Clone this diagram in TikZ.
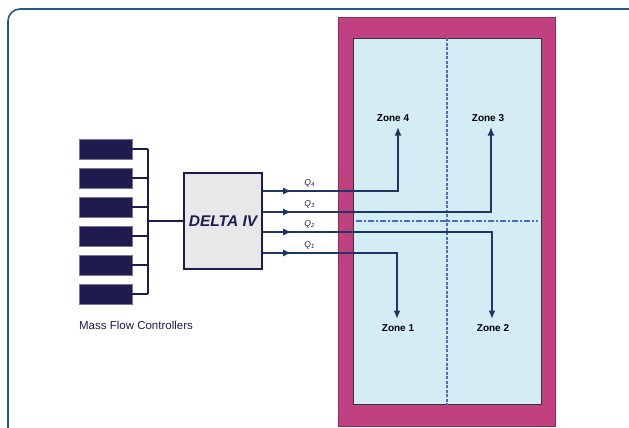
\documentclass[tikz,border=0pt]{standalone}
\usepackage{fontspec}
\setmainfont{Liberation Sans}
\usetikzlibrary{arrows.meta}

\definecolor{navy}{HTML}{1E1B4E}
\definecolor{flowblue}{HTML}{1E3566}
\definecolor{framblue}{HTML}{1B5E8E}
\definecolor{wall}{HTML}{C1407F}
\definecolor{floorblue}{HTML}{D4EDF4}
\definecolor{divblue}{HTML}{4A6CC4}

\begin{document}
\begin{tikzpicture}[x=1pt, y=-1pt,
    mfc/.style={fill=navy, draw=navy!60, minimum width=53pt, minimum height=20pt, inner sep=0pt},
    controller/.style={draw=navy, line width=1.4pt, fill=gray!18, minimum width=78pt, minimum height=96pt, font=\fontsize{15.5}{15}\selectfont\bfseries\itshape, text=navy},
    wire/.style={draw=navy, line width=1.2pt},
    flow/.style={draw=flowblue, line width=1.6pt},
    tip/.style={flow, -{Latex[length=8.5pt, width=7pt]}},
    zone/.style={font=\fontsize{10}{10}\selectfont\bfseries},
    qlab/.style={font=\fontsize{8.5}{8}\selectfont\itshape, text=navy, inner sep=0pt},
    divider/.style={draw=divblue, line width=1.6pt, dash pattern=on 3pt off 1.5pt}
]
    \useasboundingbox (0,0) rectangle (629,428);
    \draw[framblue, line width=1.6pt, rounded corners=12pt] (8,428) -- (8,9) -- (629,9);

    % room with four zones
    \node[fill=wall, draw=wall!70!black, line width=0.8pt, minimum width=217pt, minimum height=409pt] (room) at (446.5,221.5) {};
    \node[fill=floorblue, draw=black!80, line width=1pt, minimum width=188pt, minimum height=365pt] (floor) at (447,221.5) {};
    \draw[divider] (floor.north) -- (floor.south);
    \draw[divider, line width=2pt, dash pattern=on 6pt off 2pt on 2pt off 2pt] ([xshift=3pt, yshift=0.5pt]floor.west) -- ([xshift=-4pt, yshift=0.5pt]floor.east);

    \node[zone] (zone4) at (393,118) {Zone 4};
    \node[zone] (zone3) at (488,118) {Zone 3};
    \node[zone] (zone1) at (398,328) {Zone 1};
    \node[zone] (zone2) at (493,328) {Zone 2};

    % mass flow controllers
    \foreach \i in {1,...,6}
        \node[mfc] (mfc\i) at (105.5,120+29*\i) {};
    \node[font=\fontsize{11.5}{12}\selectfont, text=navy] (mfclabel) at (136,325) {Mass Flow Controllers};

    \node[controller] (delta) at (223,221) {DELTA IV};

    \coordinate (bus) at (148,221);
    \foreach \i in {1,...,6}
        \draw[wire] (mfc\i.east) -- (mfc\i.east -| bus);
    \draw[wire] (mfc1.east -| bus) -- (mfc6.east -| bus);
    \draw[wire] (bus) -- (delta.west);

    % outlets of the controller
    \coordinate (q4) at (delta.east |- 0,191);
    \coordinate (q3) at (delta.east |- 0,212);
    \coordinate (q2) at (delta.east |- 0,232);
    \coordinate (q1) at (delta.east |- 0,253);
    \coordinate (t4) at (398,127);
    \coordinate (t3) at (491,127);
    \coordinate (t2) at (492,319);
    \coordinate (t1) at (397,319);

    \foreach \q/\t in {4/t4, 3/t3, 2/t2, 1/t1} {
        \draw[tip] (q\q) -| (\t);
        \draw[tip] (q\q) -- ++(29,0);
        \path (q\q) ++(47,-8) node[qlab] {Q\textsubscript{\q}};
    }
\end{tikzpicture}
\end{document}
